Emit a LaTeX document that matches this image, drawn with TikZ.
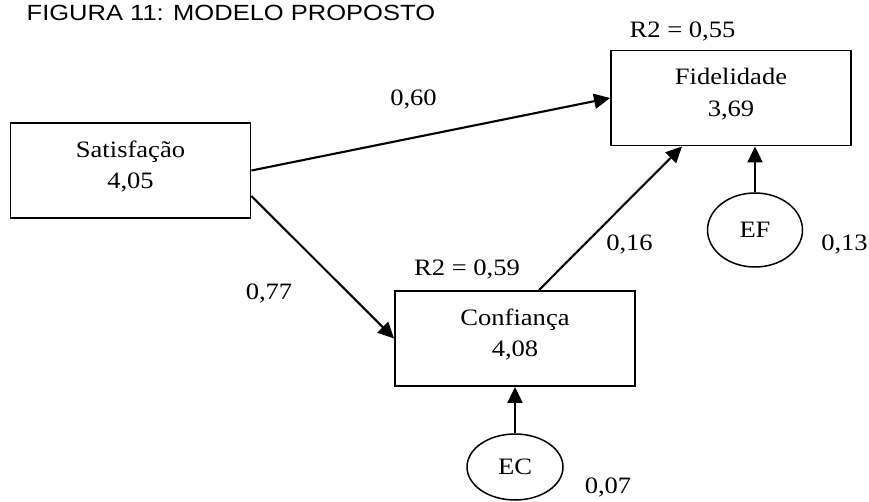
\documentclass[tikz,border=0pt]{standalone}
\usepackage{fontspec}
\setmainfont[FakeStretch=1.13]{Liberation Serif}
\newfontfamily\titlefont[FakeStretch=1.16]{Liberation Sans}
\usetikzlibrary{arrows.meta,shapes.geometric}
\begin{document}
\begin{tikzpicture}[x=1pt,y=-1pt,
  box/.style={draw,line width=1.9pt,minimum width=240pt,minimum height=95pt,inner sep=0pt},
  boxtext/.style={align=center,inner sep=0pt,font=\fontsize{23.5}{31.5}\selectfont},
  err/.style={draw,ellipse,line width=1.5pt,inner sep=0pt,font=\fontsize{23.5}{28}\selectfont},
  lbl/.style={anchor=base,inner sep=0pt,font=\fontsize{23.5}{28}\selectfont},
  pathArrow/.style={line width=2.1pt,-{Triangle[length=16pt,width=15pt]}}]
\useasboundingbox (0,0) rectangle (869,502);

% title
\node[anchor=base west,inner sep=0pt,font=\titlefont\fontsize{22}{26}\selectfont] (title) at (26.5,20.7) {FIGURA 11: MODELO PROPOSTO};

% constructs
\node[box] (sat)  at (130.5,170.5) {};
\node[box] (fid)  at (731,98) {};
\node[box] (conf) at (515,338.5) {};
\node[boxtext] (satT)  at ([yshift=4pt]sat.center)  {Satisfação\\4,05};
\node[boxtext] (fidT)  at ([yshift=4pt]fid.center)  {Fidelidade\\3,69};
\node[boxtext] (confT) at ([yshift=4pt]conf.center) {Confiança\\4,08};

% error terms
\node[err,minimum width=96pt,minimum height=66pt] (ec) at (515,467) {EC};
\node[err,minimum width=95pt,minimum height=74pt] (ef) at (755,230) {EF};

% paths
\draw[pathArrow] (sat.east) -- (fid.west);
\draw[pathArrow] ([yshift=-25.5pt]sat.east) -- (conf.west);
\draw[pathArrow] ([xshift=24pt]conf.north) -- ([xshift=-49pt]fid.south);
\draw[pathArrow] (ec.north) -- (ec.north |- conf.south);
\draw[pathArrow] (ef.north) -- (ef.north |- fid.south);

% coefficients
\node[lbl] (r2fid)  at (682.5,38)  {R2 = 0,55};
\node[lbl] (r2conf) at (467,276)   {R2 = 0,59};
\node[lbl] (c060)   at (413.5,106) {0,60};
\node[lbl] (c077)   at (269,299)   {0,77};
\node[lbl] (c016)   at (629.5,251) {0,16};
\node[lbl] (c013)   at (844.5,251) {0,13};
\node[lbl] (c007)   at (608,493)   {0,07};
\end{tikzpicture}
\end{document}
